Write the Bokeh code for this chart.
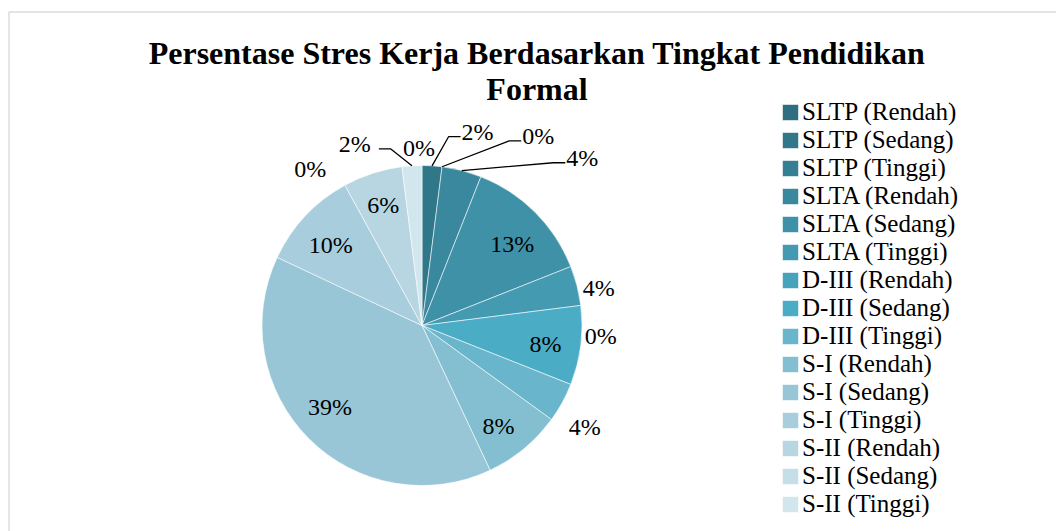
import numpy as np
from bokeh.plotting import figure
from bokeh.models import ColumnDataSource, Range1d, Legend, LegendItem, Label, BoxAnnotation
from bokeh.core.properties import value
from bokeh.embed import file_html
from bokeh.resources import INLINE

# ---------------- data ----------------
title_lines = ["Persentase Stres Kerja Berdasarkan Tingkat Pendidikan", "Formal"]
categories = [
    "SLTP (Rendah)", "SLTP (Sedang)", "SLTP (Tinggi)",
    "SLTA (Rendah)", "SLTA (Sedang)", "SLTA (Tinggi)",
    "D-III (Rendah)", "D-III (Sedang)", "D-III (Tinggi)",
    "S-I (Rendah)", "S-I (Sedang)", "S-I (Tinggi)",
    "S-II (Rendah)", "S-II (Sedang)", "S-II (Tinggi)",
]
percent = [0, 2, 0, 4, 13, 4, 0, 8, 4, 8, 39, 10, 6, 0, 2]
colors = [
    "#2E6E80", "#31778A", "#357F93", "#3A889D", "#3F91A8",
    "#439AB1", "#47A3BC", "#4BACC6", "#69B5CB", "#84BFD1",
    "#98C6D7", "#A8CEDD", "#B7D6E2", "#C5DEE8", "#D2E6ED",
]

# ---------------- layout (positions/styles) ----------------
W, H = 1056, 531
CX, CY, RAD = 421.5, 206.0, 160.0
label_radius = [1.11, 1.26, 1.39, 1.45, 0.76, 1.13, 1.12, 0.78, 1.20, 0.79, 0.77, 0.76, 0.79, 1.20, 1.21]
label_shift = [-1.0, 12.4, 24.3, 29.3, 2.9, 2.3, 10.7, 1.4, 3.2, 2.4, 3.4, -1.8, 0.1, -28.4, -16.7]
has_leader = [False, True, True, True, False, False, False, False, False, False, False, False, False, False, True]
FONT = "Liberation Serif"

vals = np.array(percent, dtype=float)
frac = vals / vals.sum()
cum_end = np.cumsum(frac)
cum_start = cum_end - frac
th0 = cum_start * 360.0
th1 = cum_end * 360.0
mid = (th0 + th1) / 2.0

# zero-size slices are not drawn (NaN angles), but stay in the legend
start_angle = np.where(vals > 0, np.radians(90.0 - th1), np.nan)
end_angle = np.where(vals > 0, np.radians(90.0 - th0), np.nan)

lab_th = np.radians(mid + np.array(label_shift))
lr = np.array(label_radius) * RAD
lx = CX + lr * np.sin(lab_th)
ly = CY + lr * np.cos(lab_th)

src = ColumnDataSource(dict(
    cat=categories, pct=percent, color=colors,
    start=start_angle, end=end_angle,
    x=[CX] * len(percent), y=[CY] * len(percent),
))
lab_src = ColumnDataSource(dict(x=lx, y=ly, text=[f"{v:g}%" for v in percent]))

# leader lines
lxs, lys = [], []
for i, lead in enumerate(has_leader):
    if not lead:
        continue
    m = np.radians(mid[i])
    sx, sy = CX + RAD * np.sin(m), CY + RAD * np.cos(m)
    side = 1 if lx[i] > CX else -1
    gap = 17 if side > 0 else 24
    ex = lx[i] - side * gap
    ey = ly[i] - 5
    bx = ex - side * 12
    lxs.append([sx, bx, ex])
    lys.append([sy, ey, ey])

p = figure(width=W, height=H, output_backend="svg", toolbar_location=None,
           x_range=Range1d(0, W), y_range=Range1d(0, H),
           x_axis_type=None, y_axis_type=None,
           min_border=0, min_border_left=0, min_border_right=0,
           min_border_top=0, min_border_bottom=0)
p.grid.visible = False
p.outline_line_color = None
p.background_fill_color = "white"

p.add_layout(BoxAnnotation(left=8.5, right=W + 50, top=H - 11.5, bottom=-50,
                           fill_alpha=0, line_color="#8C8C8C", line_width=1.5))

wr = p.wedge(x="x", y="y", radius=RAD, start_angle="start", end_angle="end",
             fill_color="color", line_color="white", line_width=0.8, line_alpha=0.7,
             source=src)

p.multi_line(xs=lxs, ys=lys, line_color="black", line_width=1.3)

p.text(x="x", y="y", text="text", source=lab_src, text_font=value(FONT),
       text_font_size="24px", text_align="center", text_baseline="middle",
       text_color="black")

for t, yy in zip(title_lines, [H - 52, H - 88]):
    p.add_layout(Label(x=536.5, y=yy, text=t, text_align="center", text_baseline="middle",
                       text_font=FONT, text_font_size="32px", text_font_style="bold",
                       text_color="black"))

items = [LegendItem(label=c, renderers=[wr], index=i) for i, c in enumerate(categories)]
legend = Legend(items=items, location=(780, 13), orientation="vertical",
                label_text_font=FONT, label_text_font_size="25px", label_text_color="black",
                glyph_width=20, glyph_height=20, label_standoff=2, spacing=0,
                padding=0, margin=0, border_line_color=None, background_fill_alpha=0,
                label_height=28)
p.add_layout(legend, "center")

open("out.html", "w").write(file_html(p, INLINE))
